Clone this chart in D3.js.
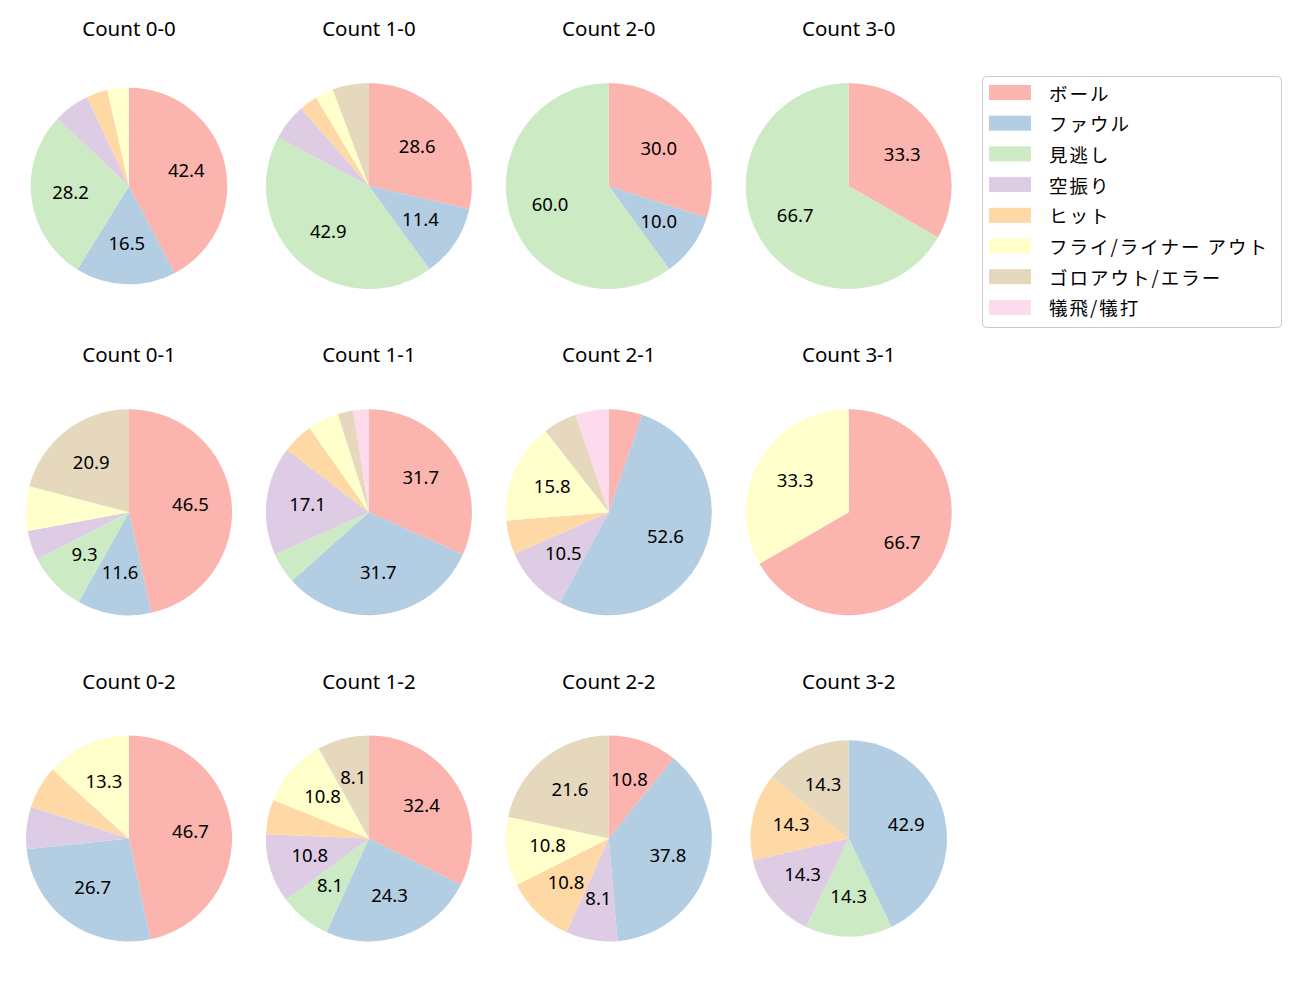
<!DOCTYPE html>
<html>
<head>
<meta charset="utf-8">
<script src="https://cdn.jsdelivr.net/npm/d3@7"></script>
<style>
  body { margin: 0; background: #fff; }
  svg { display: block; }
  text { font-family: "Noto Sans", "Noto Sans CJK JP", sans-serif; }
  text.jp { font-family: "Noto Sans CJK JP", sans-serif; }
</style>
</head>
<body>
<script>
var w = 1300,
    h = 1000;

var categories = ["ボール", "ファウル", "見逃し", "空振り", "ヒット",
                  "フライ/ライナー アウト", "ゴロアウト/エラー", "犠飛/犠打"];

var colors = ["#fbb4ae", "#b3cde3", "#ccebc5", "#decbe4",
              "#fed9a6", "#ffffcc", "#e5d8bd", "#fddaec"];

var countLabels = ["0-0", "1-0", "2-0", "3-0",
                   "0-1", "1-1", "2-1", "3-1",
                   "0-2", "1-2", "2-2", "3-2"];

// pitch counts per category, same order as categories
var count00 = [36, 14, 24, 5, 3, 3, 0, 0];
var count10 = [10, 4, 15, 2, 1, 1, 2, 0];
var count20 = [3, 1, 6, 0, 0, 0, 0, 0];
var count30 = [1, 0, 2, 0, 0, 0, 0, 0];
var count01 = [20, 5, 4, 2, 0, 3, 9, 0];
var count11 = [13, 13, 2, 7, 2, 2, 1, 1];
var count21 = [1, 10, 0, 2, 1, 3, 1, 1];
var count31 = [2, 0, 0, 0, 0, 1, 0, 0];
var count02 = [7, 4, 0, 1, 1, 2, 0, 0];
var count12 = [12, 9, 3, 4, 2, 4, 3, 0];
var count22 = [4, 14, 0, 3, 4, 4, 8, 0];
var count32 = [0, 3, 1, 1, 1, 0, 1, 0];

var allCounts = [count00, count10, count20, count30,
                 count01, count11, count21, count31,
                 count02, count12, count22, count32];

// layout
var colX = d3.scaleLinear().domain([0, 3]).range([129, 848.7]);
var rowY = d3.scaleLinear().domain([0, 2]).range([186, 838.5]);
var smallPies = ["0-0", "3-2"];

var color = d3.scaleOrdinal().domain(categories).range(colors);

var svg = d3.select("body").append("svg")
  .attr("width", w)
  .attr("height", h);

var pie = d3.pie().sort(null).value(function(d) { return d; });

allCounts.forEach(function(vals, i) {
  var col = i % 4, row = Math.floor(i / 4);
  var cx = colX(col), cy = rowY(row);
  var r = smallPies.indexOf(countLabels[i]) >= 0 ? 98.3 : 103;
  var total = d3.sum(vals);
  var arc = d3.arc().innerRadius(0).outerRadius(r);
  var labelArc = d3.arc().innerRadius(r * 0.6).outerRadius(r * 0.6);

  var g = svg.append("g").attr("transform", "translate(" + cx + "," + cy + ")");

  var arcs = pie(vals).map(function(a, k) { a.cat = categories[k]; return a; });

  g.selectAll("path").data(arcs.filter(function(a) { return a.value > 0; }))
    .enter().append("path")
    .attr("d", arc)
    .attr("fill", function(d) { return color(d.cat); });

  // only slices of 8% or more get a label
  g.selectAll("text.pct").data(arcs.filter(function(a) { return a.value / total * 100 >= 8; }))
    .enter().append("text")
    .attr("class", "pct")
    .attr("transform", function(d) { return "translate(" + labelArc.centroid(d) + ")"; })
    .attr("text-anchor", "middle")
    .attr("dominant-baseline", "central")
    .attr("dy", -2)
    .attr("font-size", "18.5px")
    .attr("fill", "#000")
    .text(function(d) { return (d.value / total * 100).toFixed(1); });

  svg.append("text")
    .attr("x", cx)
    .attr("y", cy - 150)
    .attr("text-anchor", "middle")
    .attr("font-size", "20.5px")
    .attr("fill", "#000")
    .text("Count " + countLabels[i]);
});

// legend
var lg = svg.append("g").attr("transform", "translate(982,76)");
lg.append("rect")
  .attr("x", 0.5).attr("y", 0.5)
  .attr("width", 299).attr("height", 251)
  .attr("rx", 4)
  .attr("fill", "#fff")
  .attr("stroke", "#cccccc");

var item = lg.selectAll("g.item").data(categories)
  .enter().append("g")
  .attr("class", "item")
  .attr("transform", function(d, i) { return "translate(0," + (16.5 + i * 30.7) + ")"; });

item.append("rect")
  .attr("x", 7).attr("y", -7.5)
  .attr("width", 42).attr("height", 15)
  .attr("fill", function(d) { return color(d); });

item.append("text")
  .attr("class", "jp")
  .attr("x", 67)
  .attr("dominant-baseline", "central")
  .attr("font-size", "18.5px")
  .attr("letter-spacing", "2px")
  .attr("fill", "#000")
  .text(function(d) { return d; });
</script>
</body>
</html>
